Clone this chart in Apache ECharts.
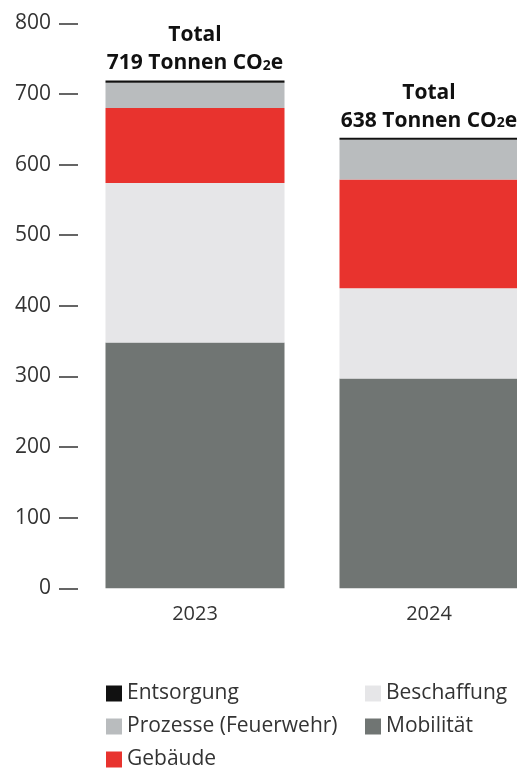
<!DOCTYPE html>
<html>
<head>
<meta charset="utf-8">
<script src="https://cdn.jsdelivr.net/npm/echarts@6/dist/echarts.min.js"></script>
<style>
html,body{margin:0;padding:0;background:#fff;overflow:hidden;width:517px;height:772px;}
#chart{width:546px;height:772px;}
</style>
</head>
<body>
<div id="chart"></div>
<script>
const categories = ['2023', '2024'];
const mobilitaet = [348, 297];
const beschaffung = [226, 128];
const gebaeude = [106, 154];
const prozesse = [36, 56];
const entsorgung = [3, 3];
const yTicks = [0, 100, 200, 300, 400, 500, 600, 700, 800];

const totals = categories.map((c, i) =>
  mobilitaet[i] + beschaffung[i] + gebaeude[i] + prozesse[i] + entsorgung[i]);

const FONT = '"Open Sans", "DejaVu Sans", sans-serif';
const chart = echarts.init(document.getElementById('chart'));

function seriesOf(name, data, color, extra) {
  return Object.assign({
    name: name,
    type: 'bar',
    stack: 'total',
    data: data,
    barWidth: 179,
    itemStyle: { color: color },
    emphasis: { disabled: true }
  }, extra || {});
}

const legendText = { fontFamily: FONT, fontSize: 21, color: '#333' };

chart.setOption({
  animation: false,
  backgroundColor: '#fff',
  grid: { left: 78, top: 23.3, width: 468, height: 565 },
  xAxis: {
    type: 'category',
    data: categories,
    axisLine: { show: false },
    axisTick: { show: false },
    axisLabel: { margin: 16, fontFamily: FONT, fontSize: 20, color: '#333' }
  },
  yAxis: {
    type: 'value',
    min: yTicks[0],
    max: yTicks[yTicks.length - 1],
    interval: 100,
    axisLine: { show: false },
    axisTick: { show: true, length: 19, lineStyle: { color: '#333', width: 1.5 } },
    splitLine: { show: false },
    axisLabel: { margin: 27, fontFamily: FONT, fontSize: 21, color: '#333' }
  },
  legend: [
    {
      orient: 'vertical', left: 106, top: 683, height: 120, padding: 0, itemGap: 12,
      itemWidth: 16, itemHeight: 16, icon: 'rect',
      textStyle: legendText,
      data: ['Entsorgung', 'Prozesse (Feuerwehr)', 'Gebäude']
    },
    {
      orient: 'vertical', left: 365, top: 683, height: 120, padding: 0, itemGap: 12,
      itemWidth: 16, itemHeight: 16, icon: 'rect',
      textStyle: legendText,
      data: ['Beschaffung', 'Mobilität']
    }
  ],
  series: [
    seriesOf('Mobilität', mobilitaet, '#707573'),
    seriesOf('Beschaffung', beschaffung, '#e6e6e8'),
    seriesOf('Gebäude', gebaeude, '#e8332e'),
    seriesOf('Prozesse (Feuerwehr)', prozesse, '#b9bcbe'),
    seriesOf('Entsorgung', entsorgung, '#111111', {
      label: {
        show: true,
        position: 'top',
        distance: 3,
        formatter: function (p) {
          return '{b|Total}\n{b|' + totals[p.dataIndex] + ' Tonnen CO}{s|2}{b|e}';
        },
        rich: {
          b: { fontFamily: FONT, fontWeight: 'bold', fontSize: 21, color: '#111', lineHeight: 28 },
          s: { fontFamily: FONT, fontWeight: 'bold', fontSize: 14, color: '#111', lineHeight: 28, padding: [5, 0, 0, 0] }
        }
      }
    })
  ]
});
</script>
</body>
</html>
